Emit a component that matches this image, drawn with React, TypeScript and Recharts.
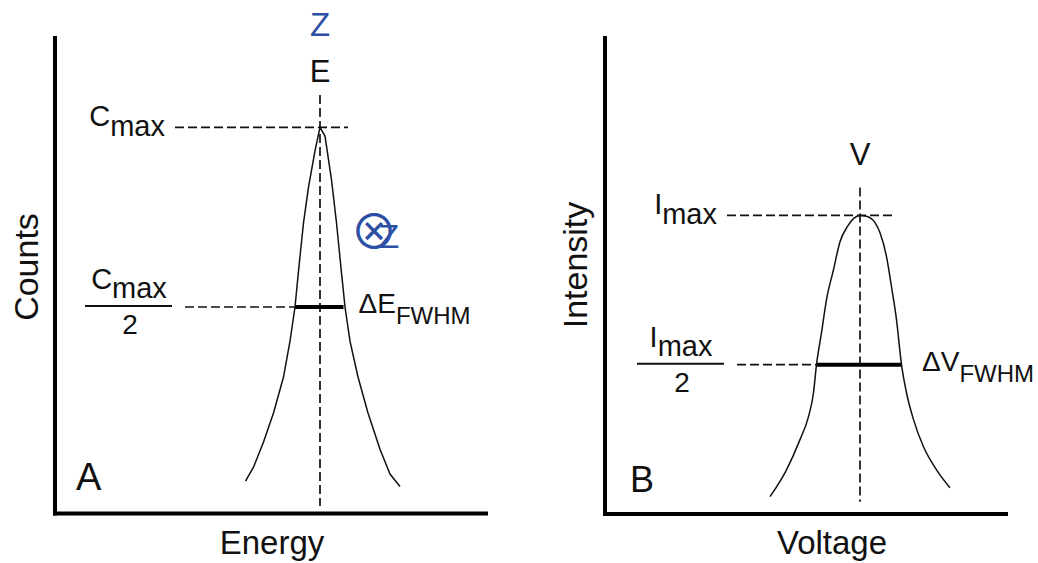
import { LineChart, Line, XAxis, YAxis, ReferenceLine } from 'recharts'

// Panel A: energy (offset from peak) vs counts (% of Cmax)
const energyX = [-14.9, -13.3, -11.3, -9.3, -7.3, -6, -5, -4.2, -3.3, -2.3, -1, 0, 1, 2.3, 3.3, 4.3, 5, 6, 7.6, 9.6, 12, 14, 16]
const countsY = [1.5, 5.4, 12.4, 20.5, 30.5, 40.5, 50, 61.4, 73.4, 83.4, 93.5, 100, 97.6, 85.4, 73.4, 59.5, 50, 40.5, 30.5, 20.5, 10.4, 3.5, 0]
const energyFwhm = [-5, 4.7]

// Panel B: voltage (offset from peak) vs intensity (% of Imax)
const voltageX = [-18, -14.7, -12, -10.3, -9.3, -8.7, -7.7, -6.7, -5.3, -4, -2.5, -1.2, 0, 1.3, 3, 4, 5.3, 6.3, 7.3, 8.3, 9.3, 10.7, 12.7, 15.3, 18]
const intensityY = [5.8, 14.8, 24.9, 32.6, 40.6, 50, 60.7, 71.8, 81.8, 91.2, 96.3, 99.1, 100, 99.7, 97.6, 94.2, 86.2, 76.1, 65.1, 50, 40.6, 31.6, 22.5, 14.8, 8.8]
const voltageFwhm = [-8.7, 8.4]

const PEAK = 100
const HALF = PEAK / 2

const spectrum = energyX.map((x, i) => ({ x, y: countsY[i] }))
const transmission = voltageX.map((x, i) => ({ x, y: intensityY[i] }))

const FONT = '"Liberation Sans", Arial, Helvetica, sans-serif'
const INK = '#111'
const BLUE = '#2d4fa6'

const axisLine = { stroke: '#000', strokeWidth: 4, strokeLinecap: 'square' as const }
const dashed = { stroke: INK, strokeWidth: 1.7, strokeDasharray: '9 4' }

const maxLabel = (sym: string) => ({ viewBox }: any) => (
  <text x={viewBox.x - 10} y={viewBox.y - 1} textAnchor="end" fontSize={29} fontFamily={FONT} fill={INK}>
    {sym}<tspan dy={10}>max</tspan>
  </text>
)

const halfLabel = (sym: string) => ({ viewBox }: any) => {
  const right = viewBox.x - 13
  const cx = right - 43
  return (
    <g fontFamily={FONT} fill={INK}>
      <text x={cx} y={viewBox.y - 18} textAnchor="middle" fontSize={29}>
        {sym}<tspan dy={9}>max</tspan>
      </text>
      <line x1={right - 87} x2={right} y1={viewBox.y - 1} y2={viewBox.y - 1} stroke={INK} strokeWidth={2} />
      <text x={cx + 1} y={viewBox.y + 27} textAnchor="middle" fontSize={28}>2</text>
    </g>
  )
}

const fwhmLabel = (sym: string, gap: number) => ({ viewBox }: any) => (
  <text x={viewBox.x + viewBox.width + gap} y={viewBox.y + 6} fontSize={28} fontFamily={FONT} fill={INK}>
    Δ{sym}<tspan dy={11} fontSize={24}>FWHM</tspan>
  </text>
)

const peakLabel = (sym: string, gap: number) => ({ viewBox }: any) => (
  <text x={viewBox.x} y={viewBox.y - gap} textAnchor="middle" fontSize={31} fontFamily={FONT} fill={INK}>
    {sym}
  </text>
)

export default function App() {
  return (
    <div style={{ position: 'absolute', left: 0, top: 0, width: 1038, height: 563, background: '#fff' }}>
      <div style={{ position: 'absolute', left: 0, top: 0 }}>
        <LineChart width={520} height={563} data={spectrum} margin={{ top: 38, right: 34, bottom: 48.5, left: 54 }}>
          <XAxis dataKey="x" type="number" domain={[-53, 33.2]} allowDataOverflow tick={false} tickLine={false} height={1} axisLine={axisLine} />
          <YAxis type="number" domain={[-7.5, 124.9]} allowDataOverflow tick={false} tickLine={false} width={1} axisLine={axisLine} />
          <ReferenceLine segment={[{ x: 0, y: 109 }, { x: 0, y: -5.4 }]} {...dashed} label={peakLabel('E', 13)} />
          <ReferenceLine segment={[{ x: -29, y: PEAK }, { x: 5.6, y: PEAK }]} {...dashed} label={maxLabel('C')} />
          <ReferenceLine segment={[{ x: -27, y: HALF }, { x: energyFwhm[0], y: HALF }]} {...dashed} label={halfLabel('C')} />
          <ReferenceLine segment={[{ x: energyFwhm[0], y: HALF }, { x: energyFwhm[1], y: HALF }]} stroke="#000" strokeWidth={4} label={fwhmLabel('E', 15)} />
          <Line dataKey="y" type="linear" stroke={INK} strokeWidth={1.5} dot={false} isAnimationActive={false} />
          <text x={320} y={36} textAnchor="middle" fontSize={33} fontFamily={FONT} fill={BLUE}>Z</text>
          <text x={374} y={249} textAnchor="middle" fontSize={48} fontFamily='"Noto Sans CJK JP", "DejaVu Sans"' fill={BLUE}>⊗</text>
          <text x={389} y={248} textAnchor="middle" fontSize={34} fontFamily={FONT} fill={BLUE}>Z</text>
          <text x={76} y={490} fontSize={38} fontFamily={FONT} fill={INK}>A</text>
          <text x={26} y={267} transform="rotate(-90 26 267)" textAnchor="middle" dominantBaseline="central" fontSize={34} fontFamily={FONT} fill={INK}>Counts</text>
          <text x={272} y={554} textAnchor="middle" fontSize={33} fontFamily={FONT} fill={INK}>Energy</text>
        </LineChart>
      </div>

      <div style={{ position: 'absolute', left: 520, top: 0 }}>
        <LineChart width={518} height={563} data={transmission} margin={{ top: 38, right: 32, bottom: 48, left: 84 }}>
          <XAxis dataKey="x" type="number" domain={[-51, 29.2]} allowDataOverflow tick={false} tickLine={false} height={1} axisLine={axisLine} />
          <YAxis type="number" domain={[0, 159.4]} allowDataOverflow tick={false} tickLine={false} width={1} axisLine={axisLine} />
          <ReferenceLine segment={[{ x: 0, y: 109.3 }, { x: 0, y: 4.1 }]} {...dashed} label={peakLabel('V', 23)} />
          <ReferenceLine segment={[{ x: -26.6, y: PEAK }, { x: 6.6, y: PEAK }]} {...dashed} label={maxLabel('I')} />
          <ReferenceLine segment={[{ x: -24.6, y: HALF }, { x: voltageFwhm[0], y: HALF }]} {...dashed} label={halfLabel('I')} />
          <ReferenceLine segment={[{ x: voltageFwhm[0], y: HALF }, { x: voltageFwhm[1], y: HALF }]} stroke="#000" strokeWidth={4} label={fwhmLabel('V', 20)} />
          <Line dataKey="y" type="monotone" stroke={INK} strokeWidth={1.5} dot={false} isAnimationActive={false} />
          <text x={110} y={492} fontSize={36} fontFamily={FONT} fill={INK}>B</text>
          <text x={55} y={265} transform="rotate(-90 55 265)" textAnchor="middle" dominantBaseline="central" fontSize={34} fontFamily={FONT} fill={INK}>Intensity</text>
          <text x={312} y={554} textAnchor="middle" fontSize={33} fontFamily={FONT} fill={INK}>Voltage</text>
        </LineChart>
      </div>
    </div>
  )
}
